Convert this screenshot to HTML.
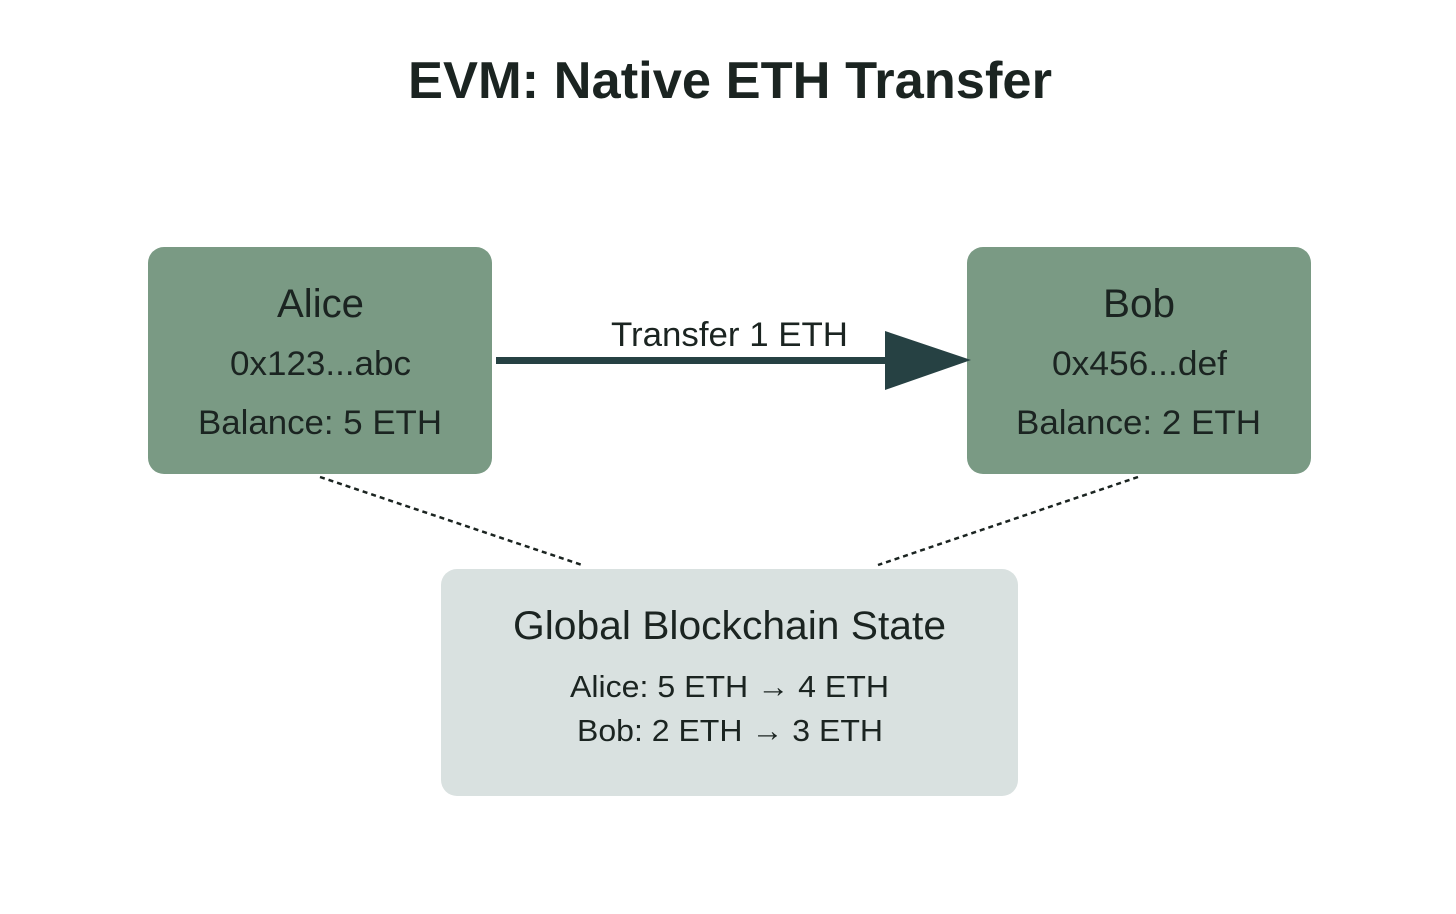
<!DOCTYPE html>
<html><head><meta charset="utf-8"><style>
html,body{margin:0;padding:0;background:#fff;}
svg{display:block;}
text{font-family:"Liberation Sans",Arial,sans-serif;fill:#1b2421;}
</style></head><body>
<svg width="1456" height="914" viewBox="0 0 1456 914" xmlns="http://www.w3.org/2000/svg">
<rect width="1456" height="914" fill="#fff"/>
<text x="408" y="98" font-size="52" font-weight="bold" textLength="644" lengthAdjust="spacingAndGlyphs">EVM: Native ETH Transfer</text>

<rect x="148" y="247" width="344" height="227" rx="16" fill="#7a9a84"/>
<rect x="967" y="247" width="344" height="227" rx="16" fill="#7a9a84"/>
<rect x="441" y="569" width="577" height="227" rx="16" fill="#d9e1e0"/>

<line x1="320" y1="477" x2="582" y2="565" stroke="#1b2421" stroke-width="2.5" stroke-dasharray="5,4"/>
<line x1="1138" y1="477" x2="878" y2="565" stroke="#1b2421" stroke-width="2.5" stroke-dasharray="5,4"/>

<rect x="496" y="357" width="392" height="7" fill="#264143"/>
<polygon points="885,331 971,360 885,390" fill="#264143"/>

<text x="277" y="317" font-size="40" textLength="87" lengthAdjust="spacingAndGlyphs">Alice</text>
<text x="230" y="375" font-size="34" textLength="181" lengthAdjust="spacingAndGlyphs">0x123...abc</text>
<text x="198" y="434" font-size="34" textLength="244" lengthAdjust="spacingAndGlyphs">Balance: 5 ETH</text>

<text x="1103" y="317" font-size="40" textLength="72" lengthAdjust="spacingAndGlyphs">Bob</text>
<text x="1052" y="375" font-size="34" textLength="175" lengthAdjust="spacingAndGlyphs">0x456...def</text>
<text x="1016" y="434" font-size="34" textLength="245" lengthAdjust="spacingAndGlyphs">Balance: 2 ETH</text>

<text x="611" y="346" font-size="34" textLength="237" lengthAdjust="spacingAndGlyphs">Transfer 1 ETH</text>

<text x="513" y="639" font-size="40" textLength="433" lengthAdjust="spacingAndGlyphs">Global Blockchain State</text>
<text x="570" y="697" font-size="31" textLength="319" lengthAdjust="spacingAndGlyphs">Alice: 5 ETH → 4 ETH</text>
<text x="577" y="741" font-size="31" textLength="306" lengthAdjust="spacingAndGlyphs">Bob: 2 ETH → 3 ETH</text>
</svg>
</body></html>
